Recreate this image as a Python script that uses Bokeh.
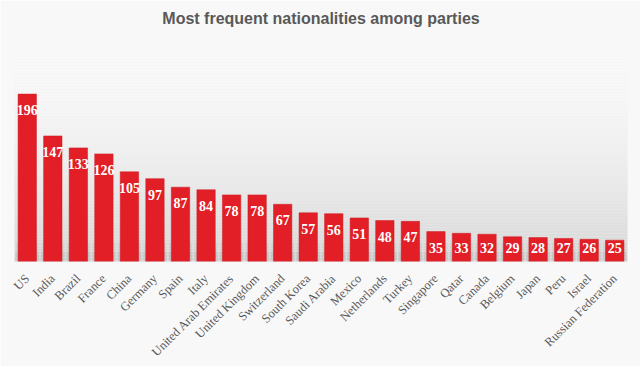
import numpy as np
from bokeh.plotting import figure
from bokeh.models import ColumnDataSource, BoxAnnotation, Range1d, Title
from bokeh.core.properties import value
from bokeh.embed import file_html
from bokeh.resources import INLINE

countries = ["US", "India", "Brazil", "France", "China", "Germany", "Spain", "Italy",
             "United Arab Emirates", "United Kingdom", "Switzerland", "South Korea",
             "Saudi Arabia", "Mexico", "Netherlands", "Turkey", "Singapore", "Qatar",
             "Canada", "Belgium", "Japan", "Peru", "Israel", "Russian Federation"]
counts = [196, 147, 133, 126, 105, 97, 87, 84, 78, 78, 67, 57, 56, 51, 48, 47,
          35, 33, 32, 29, 28, 27, 26, 25]
title_text = "Most frequent nationalities among parties"

FW, FH = 613, 205
TOP, LEFT = 56, 14
p = figure(x_range=countries, frame_width=FW, frame_height=FH, output_backend="svg",
           toolbar_location=None, title=title_text)
p.y_range = Range1d(0, 240)
p.min_border_left = LEFT
p.min_border_right = 13
p.min_border_top = TOP
p.min_border_bottom = 0
p.outline_line_color = None
p.background_fill_color = "#eeeeee"
p.border_fill_color = "#f8f8f8"

# spacer between the title and the plot frame
p.add_layout(Title(text=" ", text_font_size="10px", standoff=12), "above")

# background gradient inside the frame (decoration, canvas units)
stops = [(56, 250), (100, 247), (150, 240), (190, 232), (225, 224), (261, 216)]
for y0 in range(TOP, TOP + FH, 3):
    g = np.interp(y0 + 1.5, [s[0] for s in stops], [s[1] for s in stops])
    c = "#%02x%02x%02x" % (int(g), int(g), int(g))
    p.add_layout(BoxAnnotation(left=0, right=700, top=y0, bottom=y0 + 3,
                               left_units="canvas", right_units="canvas",
                               top_units="canvas", bottom_units="canvas",
                               fill_color=c, fill_alpha=1.0, line_color=None,
                               level="underlay"))

src = ColumnDataSource(dict(x=countries, top=counts,
                            ly=np.maximum(np.array(counts) - 18.8, 15.3),
                            lbl=[str(v) for v in counts]))

# soft shadow at the base
p.vbar(x="x", top=22, width=0.9, source=src, fill_color="#8c8c8c", fill_alpha=0.10, line_color=None)
p.vbar(x="x", top=11, width=0.95, source=src, fill_color="#8c8c8c", fill_alpha=0.14, line_color=None)
p.vbar(x="x", top="top", width=0.72, source=src, fill_color="#e21f27", line_color="#cf1a22", line_width=0.5)
p.text(x="x", y="ly", text="lbl", source=src, text_align="center", text_baseline="middle",
       text_color="white", text_font=value("Liberation Serif"), text_font_style="bold",
       text_font_size="14px")

p.title.align = "center"
p.title.standoff = 10
p.title.text_font = "Liberation Sans"
p.title.text_font_size = "16px"
p.title.text_font_style = "bold"
p.title.text_color = "#595959"

p.xaxis.major_label_orientation = np.pi / 4
p.xaxis.major_label_text_font = "Liberation Serif"
p.xaxis.major_label_text_font_size = "12.5px"
p.xaxis.major_label_text_color = "#595959"
p.xaxis.axis_line_color = None
p.xaxis.major_tick_line_color = None
p.xaxis.minor_tick_line_color = None
p.xaxis.major_tick_out = 0
p.xaxis.major_tick_in = 0
p.xaxis.major_label_standoff = 15
p.yaxis.visible = False
p.xgrid.grid_line_color = None
p.ygrid.grid_line_color = None
p.x_range.range_padding = 0

open("out.html", "w").write(file_html(p, INLINE))
